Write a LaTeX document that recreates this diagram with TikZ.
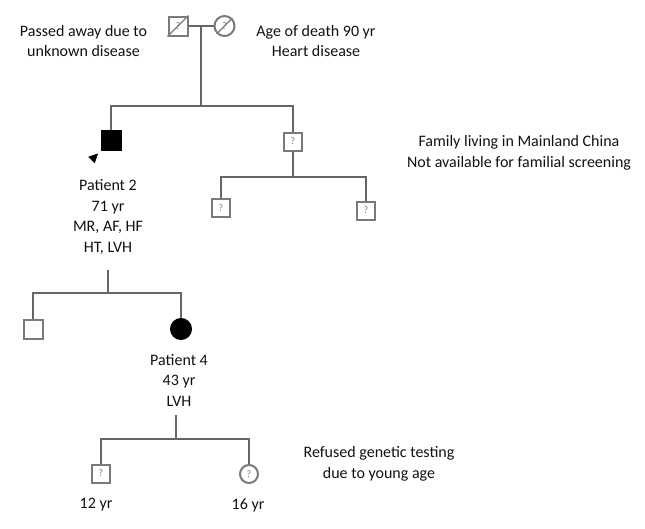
\documentclass[tikz,border=0pt]{standalone}
\usepackage{fontspec}
\setmainfont{Carlito}
\usepackage{tikz}
\usetikzlibrary{positioning, arrows.meta, calc}
\definecolor{pedLine}{HTML}{666666}
\definecolor{pedBox}{HTML}{7A7A7A}
\definecolor{pedText}{HTML}{111111}

\tikzset{
  male/.style={rectangle, draw=pedBox, line width=2pt, fill=white,
    minimum size=19pt, inner sep=0pt, text=pedBox,
    font=\fontsize{10}{10}\selectfont},
  female/.style={male, circle, minimum size=20pt},
  affected/.style={fill=black, draw=black},
  link/.style={draw=pedLine, line width=2pt},
  deadmark/.style={draw=pedBox, line width=1.4pt},
  note/.style={font=\fontsize{16}{20.5}\selectfont, text=pedText,
    align=center}
}

\begin{document}
\begin{tikzpicture}[x=1pt, y=-1pt]
    \useasboundingbox (0,0) rectangle (645,528);
    % ---- generation I ----
    \node[male] (gf) at (178,26) {?};
    \node[female] (gm) at (224.5,26) {?};
    \draw[deadmark] (gf.south west) -- (gf.north east);
    \draw[deadmark] (gm.south west) -- (gm.north east);
    \draw[link] (gf.east) -- (gm.west);
    \coordinate (m1) at ($(gf.east)!0.5!(gm.west)$);
    \node[note] (gfnote) at (83.5,41) {Passed away due to\\unknown disease};
    \node[note] (gmnote) at (316,41) {Age of death 90 yr\\Heart disease};
    % ---- generation II ----
    \coordinate (s1) at (201,106);
    \node[male, affected] (p2) at (111,140.5) {};
    \node[male, minimum size=18pt] (u1) at (293,141.5) {?};
    \draw[link] (m1) -- (s1);
    \draw[link] (p2.north) |- (s1) -| (u1.north);
    \draw[-{Triangle[length=9.2pt,width=9pt]}, black]
      ($(p2.south west)+(-9,9)$) -- ($(p2.south west)+(-2.5,2.5)$);
    \node[note] (p2note) at (108,217)
      {Patient 2\\71 yr\\MR, AF, HF\\HT, LVH};
    \node[note] (cnnote) at (519,153)
      {Family living in Mainland China\\Not available for familial screening};
    % cousins
    \coordinate (s2) at (293,177);
    \node[male, minimum size=18pt] (c1) at (221,208) {?};
    \node[male, minimum size=18pt] (c2) at (366,210.5) {?};
    \draw[link] (u1.south) -- (s2);
    \draw[link] (c1.north) |- (s2) -| (c2.north);
    % ---- generation III ----
    \coordinate (d2) at (108,270);
    \coordinate (s3) at (108,293);
    \node[male] (c3) at (33,329) {};
    \node[female, affected] (p4) at (181,329) {};
    \draw[link] (d2) -- (s3);
    \draw[link] (c3.north) |- (s3) -| (p4.north);
    \node[note] (p4note) at (179,380) {Patient 4\\43 yr\\LVH};
    % ---- generation IV ----
    \coordinate (d4) at (176,415);
    \coordinate (s4) at (176,439);
    \node[male, minimum size=18pt] (g1) at (101,473.5) {?};
    \node[female, minimum size=18pt] (g2) at (249,474) {?};
    \draw[link] (d4) -- (s4);
    \draw[link] (g1.north) |- (s4) -| (g2.north);
    \node[note] (g1note) at (96,505) {12 yr};
    \node[note] (g2note) at (248,505) {16 yr};
    \node[note] (refnote) at (379,464)
      {Refused genetic testing\\due to young age};
\end{tikzpicture}
\end{document}
